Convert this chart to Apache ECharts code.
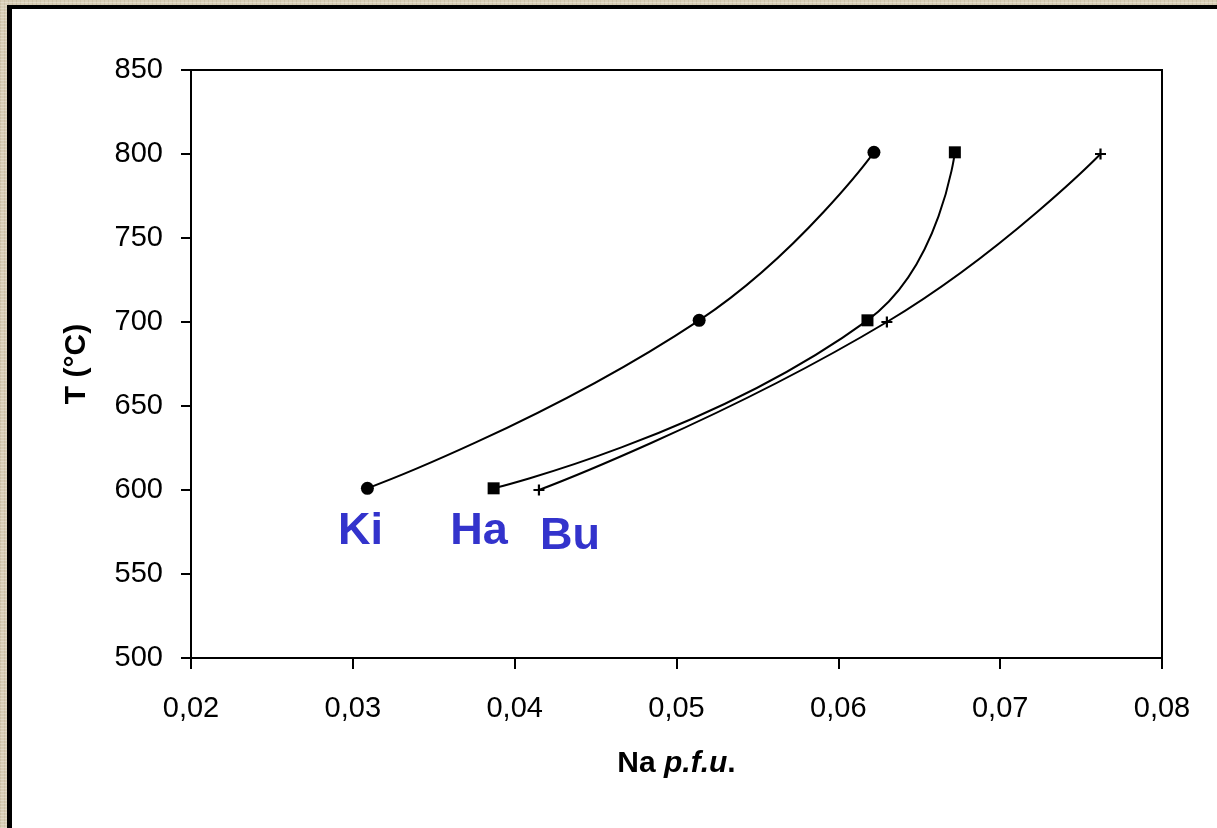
<!DOCTYPE html>
<html>
<head>
<meta charset="utf-8">
<script src="https://cdn.jsdelivr.net/npm/echarts@6/dist/echarts.min.js"></script>
<style>
  html, body { margin: 0; padding: 0; width: 1217px; height: 828px; overflow: hidden; }
  body {
    background-color: #d8ceb6;
    background-image:
      repeating-linear-gradient(0deg, rgba(255,255,255,0.25) 0px, rgba(255,255,255,0.25) 1px, rgba(0,0,0,0) 1px, rgba(0,0,0,0) 3px),
      repeating-linear-gradient(90deg, rgba(120,100,60,0.12) 0px, rgba(120,100,60,0.12) 1px, rgba(0,0,0,0) 1px, rgba(0,0,0,0) 4px);
  }
  #frame {
    position: absolute; left: 7px; top: 5px; right: -10px; bottom: -10px;
    background: #fff; border-left: 5px solid #000; border-top: 4px solid #000;
  }
  #chart { position: absolute; left: 0; top: 0; width: 1217px; height: 828px; }
</style>
</head>
<body>
<div id="frame"></div>
<div id="chart"></div>
<script>
// ---- data ----
const kiX = [0.0309, 0.0514, 0.0622];
const kiT = [601, 701, 801];
const haX = [0.0387, 0.0618, 0.0672];
const haT = [601, 701, 801];
const buX = [0.0415, 0.0630, 0.0762];
const buT = [600, 700, 800];
const labelNames = ['Ki', 'Ha', 'Bu'];
const labelX = [0.03047, 0.03780, 0.04342];
const labelT = [575.5, 575.5, 572];
const xTicks = [0.02, 0.03, 0.04, 0.05, 0.06, 0.07, 0.08];
const yTicks = [500, 550, 600, 650, 700, 750, 800, 850];

const pairs = (xs, ys) => xs.map((x, i) => [x, ys[i]]);
const FONT = '"Liberation Sans", Arial, sans-serif';
const plusPath = 'path://M4,0H6V4H10V6H6V10H4V6H0V4H4Z';

const chart = echarts.init(document.getElementById('chart'), null, { renderer: 'canvas' });

const lineBase = {
  type: 'line',
  smooth: 0.5,
  lineStyle: { color: '#000', width: 2 },
  itemStyle: { color: '#000', opacity: 1 },
  z: 3
};

chart.setOption({
  backgroundColor: 'transparent',
  animation: false,
  textStyle: { fontFamily: FONT },
  grid: {
    left: 191, top: 70, right: 55, bottom: 170,
    containLabel: false,
    show: true, borderColor: '#000', borderWidth: 2, backgroundColor: 'transparent'
  },
  xAxis: {
    type: 'value',
    min: xTicks[0], max: xTicks[xTicks.length - 1], interval: 0.01,
    name: '{b|Na }{bi|p.f.u}{b|.}',
    nameLocation: 'middle',
    nameGap: 91,
    nameTextStyle: {
      rich: {
        b: { fontFamily: FONT, fontSize: 30, fontWeight: 'bold', color: '#000' },
        bi: { fontFamily: FONT, fontSize: 30, fontWeight: 'bold', fontStyle: 'italic', color: '#000' }
      }
    },
    axisLine: { show: true, onZero: false, lineStyle: { color: '#000', width: 2 } },
    axisTick: { show: true, inside: false, length: 11, lineStyle: { color: '#000', width: 2 } },
    axisLabel: {
      show: true, margin: 36, color: '#000', fontSize: 29, fontFamily: FONT,
      formatter: v => v.toFixed(2).replace('.', ',')
    },
    splitLine: { show: false }
  },
  yAxis: {
    type: 'value',
    min: yTicks[0], max: yTicks[yTicks.length - 1], interval: 50,
    name: 'T (°C)',
    nameLocation: 'middle',
    nameGap: 99,
    nameRotate: 90,
    nameTextStyle: { fontFamily: FONT, fontSize: 30, fontWeight: 'bold', color: '#000' },
    axisLine: { show: true, onZero: false, lineStyle: { color: '#000', width: 2 } },
    axisTick: { show: true, inside: false, length: 10, lineStyle: { color: '#000', width: 2 } },
    axisLabel: { show: true, margin: 28, color: '#000', fontSize: 29, fontFamily: FONT, padding: [4, 0, 0, 0] },
    splitLine: { show: false }
  },
  series: [
    Object.assign({}, lineBase, { name: 'Ki', data: pairs(kiX, kiT), symbol: 'circle', symbolSize: 13 }),
    Object.assign({}, lineBase, { name: 'Ha', data: pairs(haX, haT), symbol: 'rect', symbolSize: 12 }),
    Object.assign({}, lineBase, { name: 'Bu', data: pairs(buX, buT), symbol: plusPath, symbolSize: 11 }),
    {
      type: 'scatter',
      name: 'labels',
      symbolSize: 0,
      silent: true,
      itemStyle: { opacity: 1 },
      data: labelNames.map((n, i) => ({ name: n, value: [labelX[i], labelT[i]] })),
      label: {
        show: true, position: 'inside', opacity: 1,
        formatter: p => p.name,
        fontFamily: FONT, fontSize: 45, fontWeight: 'bold', color: '#3333cc'
      },
      z: 5
    }
  ]
});
</script>
</body>
</html>
